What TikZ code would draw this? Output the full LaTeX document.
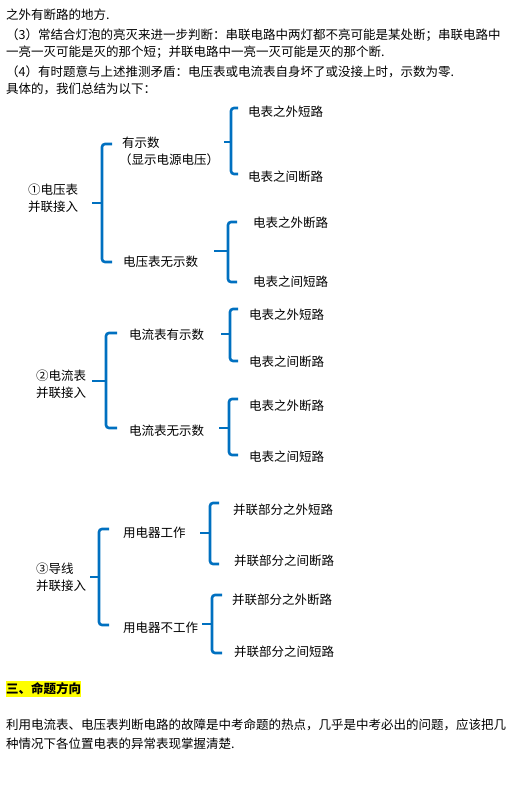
\documentclass[tikz,border=0pt]{standalone}
\usepackage{fontspec}
\setmainfont{Noto Sans CJK SC}
\definecolor{bracketblue}{RGB}{0,112,192}
\definecolor{markyellow}{RGB}{255,255,0}

\begin{document}
\begin{tikzpicture}[x=1pt,y=-1pt,
  every node/.style={font=\fontsize{12.5}{17}\selectfont,inner sep=0pt,anchor=west},
  brace/.style={bracketblue,line width=2.6pt,rounded corners=3pt}]
  \useasboundingbox (0,0) rectangle (513,805);
  % running text above the summary
  \node (p1) at (6,15) {之外有断路的地方.};
  \node (p2) at (6,35) {（3）常结合灯泡的亮灭来进一步判断：串联电路中两灯都不亮可能是某处断；串联电路中};
  \node (p3) at (6,52) {一亮一灭可能是灭的那个短；并联电路中一亮一灭可能是灭的那个断.};
  \node (p4) at (6,72) {（4）有时题意与上述推测矛盾：电压表或电流表自身坏了或没接上时，示数为零.};
  \node (p5) at (6,89) {具体的，我们总结为以下：};
  % case 1: voltmeter
  \node[align=left] (v) at (28,198.5) {①电压表\\并联接入};
  \node[align=left] (vy) at (119,151) {\hspace*{3pt}有示数\\（显示电源电压）};
  \node (vn) at (123,262) {电压表无示数};
  \node (vy1) at (248,112) {电表之外短路};
  \node (vy2) at (248,177) {电表之间断路};
  \node (vn1) at (253,223) {电表之外断路};
  \node (vn2) at (253,282) {电表之间短路};
  % case 2: ammeter
  \node[align=left] (a) at (36,384) {②电流表\\并联接入};
  \node (ay) at (129,335) {电流表有示数};
  \node (an) at (129,431) {电流表无示数};
  \node (ay1) at (249,315) {电表之外短路};
  \node (ay2) at (249,362) {电表之间断路};
  \node (an1) at (249,406) {电表之外断路};
  \node (an2) at (249,457) {电表之间短路};
  % case 3: wire
  \node[align=left] (w) at (36,577) {③导线\\并联接入};
  \node (wy) at (123,533) {用电器工作};
  \node (wn) at (123,628) {用电器不工作};
  \node (wy1) at (233,510) {并联部分之外短路};
  \node (wy2) at (234,561) {并联部分之间断路};
  \node (wn1) at (232,600) {并联部分之外断路};
  \node (wn2) at (234,652) {并联部分之间短路};
  % braces: x / top / middle / bottom / right end / left end
  \foreach \bx/\ty/\my/\by/\rx/\lx in {102/144/203/262/112/92, 231/108/142/174/238/224,
      228/222/251/282/237/214, 106/333/381/428/117/92, 230/309/334/361/238/221,
      229/399/428/455/238/219, 99/529/577/625/109/90, 210/503/533/564/219/200,
      212/595/624/653/222/202}
  {
    \draw[brace] (\rx,\ty) -- (\bx,\ty) -- (\bx,\by) -- (\rx,\by);
    \draw[brace] (\lx,\my) -- (\bx,\my);
  }
  % heading and closing paragraph
  \node[fill=markyellow,inner ysep=2pt,font=\fontsize{12.5}{17}\selectfont\bfseries] (h) at (6,689) {三、命题方向};
  \node (q1) at (6,725) {利用电流表、电压表判断电路的故障是中考命题的热点，几乎是中考必出的问题，应该把几};
  \node (q2) at (6,744) {种情况下各位置电表的异常表现掌握清楚.};
\end{tikzpicture}
\end{document}
